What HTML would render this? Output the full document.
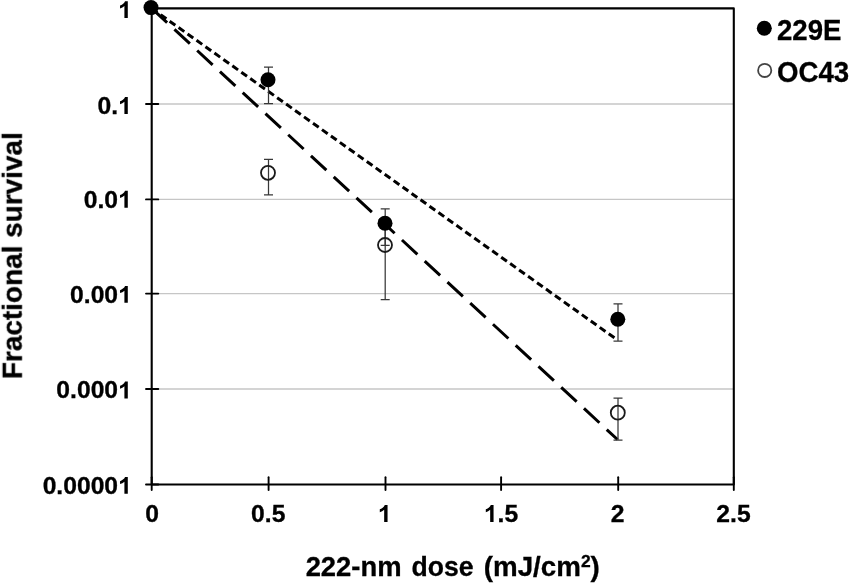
<!DOCTYPE html>
<html>
<head>
<meta charset="utf-8">
<title>Fractional survival vs 222-nm dose</title>
<style>
  html, body { margin: 0; padding: 0; background: #ffffff; }
  body { width: 849px; height: 583px; overflow: hidden; font-family: "Liberation Sans", sans-serif; }
  svg { display: block; }
  text { font-family: "Liberation Sans", sans-serif; font-weight: bold; fill: #000; stroke: #000; stroke-width: 0.3px; }
  .tick { font-size: 23.5px; }
  .title { font-size: 27px; }
  .legend { font-size: 28.6px; }
</style>
</head>
<body>
<svg width="849" height="583" viewBox="0 0 849 583">
  <defs>
    <filter id="soft" x="0" y="0" width="849" height="583" filterUnits="userSpaceOnUse" color-interpolation-filters="sRGB">
      <feGaussianBlur stdDeviation="0.55"/>
    </filter>
  </defs>
  <rect x="0" y="0" width="849" height="583" fill="#ffffff"/>
  <g filter="url(#soft)">

  <!-- gridlines -->
  <g stroke="#c6c6c6" stroke-width="1.4" fill="none">
    <line x1="152" y1="104.0" x2="733" y2="104.0"/>
    <line x1="152" y1="199.4" x2="733" y2="199.4"/>
    <line x1="152" y1="293.6" x2="733" y2="293.6"/>
    <line x1="152" y1="389.0" x2="733" y2="389.0"/>
  </g>

  <!-- plot frame -->
  <rect x="151.7" y="8.4" width="582.1" height="476.1" fill="none" stroke="#000" stroke-width="2.1" stroke-linejoin="round"/>

  <!-- y ticks -->
  <g stroke="#000" stroke-width="1.9" stroke-linecap="round">
    <line x1="146" y1="104.0" x2="158.3" y2="104.0"/>
    <line x1="146" y1="199.4" x2="158.3" y2="199.4"/>
    <line x1="146" y1="293.6" x2="158.3" y2="293.6"/>
    <line x1="146" y1="389.0" x2="158.3" y2="389.0"/>
    <line x1="146" y1="484.5" x2="158.3" y2="484.5"/>
    <!-- x ticks -->
    <line x1="151.7" y1="477.3" x2="151.7" y2="490"/>
    <line x1="268.6" y1="477.3" x2="268.6" y2="490"/>
    <line x1="385.5" y1="477.3" x2="385.5" y2="490"/>
    <line x1="501.1" y1="477.3" x2="501.1" y2="490"/>
    <line x1="618.2" y1="477.3" x2="618.2" y2="490"/>
    <line x1="733.8" y1="477.3" x2="733.8" y2="490"/>
  </g>

  <!-- fit lines -->
  <line x1="151.7" y1="8.4" x2="617.5" y2="340" stroke="#000" stroke-width="3" stroke-dasharray="7 4"/>
  <line x1="151.7" y1="8.4" x2="617.5" y2="439.5" stroke="#000" stroke-width="3" stroke-dasharray="21 10"/>

  <!-- error bars -->
  <g stroke="#383838" stroke-width="1.25" fill="none">
    <!-- 229E @0.5 -->
    <path d="M268.5 67 V103.6 M264 67 H273 M264 103.6 H273"/>
    <!-- OC43 @0.5 -->
    <path d="M268.5 159.4 V194.8 M264 159.4 H273 M264 194.8 H273"/>
    <!-- 229E @1 -->
    <path d="M385.2 208.8 V245.3 M380.7 208.8 H389.7 M380.7 245.3 H389.7"/>
    <!-- OC43 @1 -->
    <path d="M385.2 222 V299.5 M380.7 299.5 H389.7"/>
    <!-- 229E @2 -->
    <path d="M618 303.8 V341 M613.5 303.8 H622.5 M613.5 341 H622.5"/>
    <!-- OC43 @2 -->
    <path d="M618 398.2 V440 M613.5 398.2 H622.5 M613.5 440 H622.5"/>
  </g>

  <!-- OC43 markers (open) -->
  <g fill="none" stroke="#1a1a1a" stroke-width="1.8">
    <circle cx="268" cy="172.8" r="7"/>
    <circle cx="385" cy="245" r="7"/>
    <circle cx="617.8" cy="412.7" r="7"/>
  </g>

  <!-- 229E markers (filled) -->
  <g fill="#000">
    <circle cx="151" cy="7.6" r="7.5"/>
    <circle cx="268" cy="79.7" r="7.5"/>
    <circle cx="385" cy="223.3" r="7.5"/>
    <circle cx="617.8" cy="319.2" r="7.5"/>
  </g>

  <!-- y tick labels (Arial-style "1" drawn as path) -->
  <g class="tick" text-anchor="end">
    <path d="M.3936 0H.2563V-.5171Q.1811-.4468.0791-.4131V-.5376Q.1328-.5552.1958-.6042Q.2588-.6533.2822-.7188H.3936Z" transform="translate(118.08 18.1) scale(24.675 23.5)"/>
    <text transform="translate(118.08 114.0) scale(1.05 1)">0.</text>
    <path d="M.3936 0H.2563V-.5171Q.1811-.4468.0791-.4131V-.5376Q.1328-.5552.1958-.6042Q.2588-.6533.2822-.7188H.3936Z" transform="translate(118.08 114.0) scale(24.675 23.5)"/>
    <text transform="translate(118.08 207.7) scale(1.05 1)">0.0</text>
    <path d="M.3936 0H.2563V-.5171Q.1811-.4468.0791-.4131V-.5376Q.1328-.5552.1958-.6042Q.2588-.6533.2822-.7188H.3936Z" transform="translate(118.08 207.7) scale(24.675 23.5)"/>
    <text transform="translate(118.08 302.8) scale(1.05 1)">0.00</text>
    <path d="M.3936 0H.2563V-.5171Q.1811-.4468.0791-.4131V-.5376Q.1328-.5552.1958-.6042Q.2588-.6533.2822-.7188H.3936Z" transform="translate(118.08 302.8) scale(24.675 23.5)"/>
    <text transform="translate(118.08 398.4) scale(1.05 1)">0.000</text>
    <path d="M.3936 0H.2563V-.5171Q.1811-.4468.0791-.4131V-.5376Q.1328-.5552.1958-.6042Q.2588-.6533.2822-.7188H.3936Z" transform="translate(118.08 398.4) scale(24.675 23.5)"/>
    <text transform="translate(118.08 493.8) scale(1.05 1)">0.0000</text>
    <path d="M.3936 0H.2563V-.5171Q.1811-.4468.0791-.4131V-.5376Q.1328-.5552.1958-.6042Q.2588-.6533.2822-.7188H.3936Z" transform="translate(118.08 493.8) scale(24.675 23.5)"/>
  </g>

  <!-- x tick labels -->
  <g class="tick" text-anchor="middle">
    <text transform="translate(152 522) scale(1.05 1)">0</text>
    <text transform="translate(268.2 522) scale(1.05 1)">0.5</text>
    <path d="M.3936 0H.2563V-.5171Q.1811-.4468.0791-.4131V-.5376Q.1328-.5552.1958-.6042Q.2588-.6533.2822-.7188H.3936Z" transform="translate(377.84 522) scale(24.675 23.5)"/>
    <path d="M.3936 0H.2563V-.5171Q.1811-.4468.0791-.4131V-.5376Q.1328-.5552.1958-.6042Q.2588-.6533.2822-.7188H.3936Z" transform="translate(483.85 522) scale(24.675 23.5)"/>
    <text text-anchor="start" transform="translate(497.57 522) scale(1.05 1)">.5</text>
    <text transform="translate(617.5 522) scale(1.05 1)">2</text>
    <text transform="translate(733.5 522) scale(1.05 1)">2.5</text>
  </g>

  <!-- axis titles -->
  <text class="title" transform="translate(305.64 575.6) scale(1.015 1)">222-nm</text>
  <text class="title" transform="translate(411.62 575.6) scale(0.985 1)">dose</text>
  <text class="title" transform="translate(483.71 575.6) scale(1.028 1)">(mJ/cm<tspan font-size="17" dy="-8.6">2</tspan><tspan dy="8.6">)</tspan></text>
  <text class="title" text-anchor="middle" transform="translate(21.8 255.6) rotate(-90) scale(1.035 1)">Fractional survival</text>

  <!-- legend -->
  <circle cx="764.3" cy="28.3" r="7.5" fill="#000"/>
  <circle cx="764.7" cy="70.4" r="6.6" fill="none" stroke="#444" stroke-width="1.8"/>
  <text class="legend" transform="translate(777 39.6) scale(0.966 1)">229E</text>
  <text class="legend" transform="translate(777 81.6) scale(0.966 1)">OC43</text>
  </g>
</svg>
</body>
</html>
